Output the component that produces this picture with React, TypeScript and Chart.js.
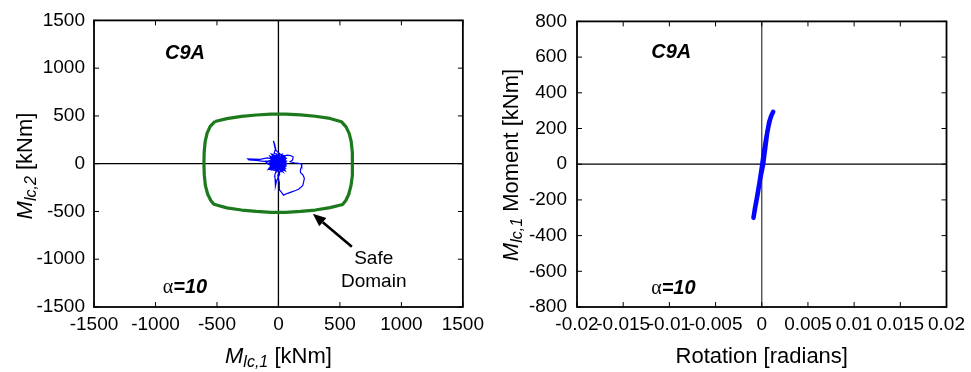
import React, { useEffect, useRef } from "react";
import { Chart, registerables } from "chart.js";

Chart.register(...registerables);

const FONT = '"Liberation Sans", Arial, sans-serif';

// ---------- Left panel: interaction (safe domain) ----------
const leftTicks = [-1500, -1000, -500, 0, 500, 1000, 1500];
const leftTickLabels = ["-1500", "-1000", "-500", "0", "500", "1000", "1500"];

const safeX = [
  -516, -420, -300, -180, -60, 0, 60, 180, 300, 420, 512,
  550, 576, 592, 601, 603, 600, 590, 572, 548, 522,
  420, 300, 180, 60, 0, -60, -180, -300, -420, -525,
  -550, -575, -594, -603, -606, -604, -596, -580, -555, -516,
];
const safeY = [
  442, 472, 495, 510, 518, 520, 519, 512, 497, 474, 440,
  385, 315, 230, 120, 0, -120, -230, -320, -385, -427,
  -460, -485, -500, -509, -510, -509, -500, -485, -462, -425,
  -385, -320, -230, -120, 0, 120, 230, 320, 390, 442,
];

const pathX = [
  0, 20, -15, 30, -40, 10, -30, 45, -20, -60, 25, 55, -45, 0, -35, -25, -41, -30, -20, 15,
  -60, 40, -70, 50, -20, 30, -75, 55, -10, 20, -65, 60, -45, 35, -80, 50, -30, 25, -55, 45,
  -35, 15, -60, 55, -5, 40, -70, 25, -50, 65, -15, 35, -40, 5, -65, 50, -25, 60, -55, 20,
  -50, -90, -150, -249, -240, -180, -120, -70, -100, -60, -80, -40, -20, -30, -27, -22, -27, -15, 10, 0,
  -15, 65, -70, 10, -40, 30, -60, 40, -25, 55,
  35, 60, 40, 70, 100, 120, 115, 95, 130, 160, 184, 190, 180, 179, 200, 211, 205, 198, 180, 163,
  140, 108, 75, 41, 27, 12, 5, 10, -5, 20, -10, 50, 30, -40, 15, -25, 40, -55, 20, -10,
  60, -30, 0, 35, -50, 10, -20, 45, -35, 25, -65, 55, -5, 30, -50, 15,
  -20, 45, -45, 10, -70, 35, -30, 60, -10, 0,
];
const pathY = [
  0, 30, 45, -20, 10, 60, -35, 15, 70, 20, -50, 40, -15, 90, 110, 150, 240, 200, 140, 100,
  70, -70, -40, 60, -90, 100, 30, -45, 85, -85, -60, 30, 95, -55, 0, 75, -70, 45, 55, -30,
  20, -60, -10, 50, -75, 80, 10, -35, 90, -15, 35, -80, 65, 25, -50, 10, -65, 55, 40, -25,
  50, 60, 45, 51, 40, 35, 25, 30, 10, -20, -55, -30, -80, -120, -160, -200, -234, -180, -110, -60,
  -50, 5, 80, -95, 60, -15, -25, 90, 40, -65,
  -40, 20, 80, 90, 85, 70, 40, 20, 10, 5, 0, -24, -60, -92, -120, -153, -190, -227, -250, -268,
  -280, -295, -310, -329, -302, -280, -261, -200, -120, -70, -20, -10, 50, 40, 25, -10, -60, 5, 65, -45,
  -25, 80, -15, 35, -40, 10, 55, -5, 25, -30, 20, -75, 60, 70, -60, -20,
  15, 40, -35, -55, 20, -85, 50, 10, 95, 0,
];

// ---------- Right panel: moment-rotation ----------
const rotTicks = [-0.02, -0.015, -0.01, -0.005, 0, 0.005, 0.01, 0.015, 0.02];
const rotTickLabels = ["-0.02", "-0.015", "-0.01", "-0.005", "0", "0.005", "0.01", "0.015", "0.02"];
const momTicks = [-800, -600, -400, -200, 0, 200, 400, 600, 800];
const momTickLabels = ["-800", "-600", "-400", "-200", "0", "200", "400", "600", "800"];

const rotX = [
  -0.0009, -0.0007, -0.00045, -0.0002, 0.00015, 0.0004, 0.0006, 0.0008, 0.001, 0.00124,
  0.0011, 0.0009, 0.0007, 0.0005, 0.00025, 0.0, -0.00025, -0.0005, -0.00075, -0.00088,
];
const momY = [
  -300, -240, -170, -90, 0, 100, 180, 235, 268, 294,
  280, 250, 205, 150, 75, -20, -105, -180, -250, -296,
];

type Part = { t: string; font: string; dy?: number };

function drawRich(ctx: CanvasRenderingContext2D, parts: Part[], cx: number, base: number, rot = 0) {
  ctx.save();
  ctx.translate(cx, base);
  if (rot) ctx.rotate(rot);
  ctx.textAlign = "left";
  ctx.textBaseline = "alphabetic";
  ctx.fillStyle = "#000";
  let total = 0;
  const ws = parts.map((p) => {
    ctx.font = p.font;
    const w = ctx.measureText(p.t).width;
    total += w;
    return w;
  });
  let x = -total / 2;
  parts.forEach((p, i) => {
    ctx.font = p.font;
    ctx.fillText(p.t, x, p.dy || 0);
    x += ws[i];
  });
  ctx.restore();
}

type Note = { x: number; y: number; parts: Part[] };
type Deco = {
  xTitle: Part[];
  xBase: number;
  yTitle: Part[];
  yBaseX: number;
  yCenter: number;
  notes: Note[];
  arrow?: { x1: number; y1: number; x2: number; y2: number };
  vZeroColor: string;
};

function makeDeco(cfg: Deco) {
  return {
    id: "deco",
    beforeDatasetsDraw(chart: any) {
      const { ctx, chartArea: a, scales } = chart;
      const x0 = scales.x.getPixelForValue(0);
      const y0 = scales.y.getPixelForValue(0);
      ctx.save();
      ctx.lineWidth = 1.3;
      ctx.strokeStyle = "#000";
      ctx.beginPath();
      ctx.moveTo(a.left, y0);
      ctx.lineTo(a.right, y0);
      ctx.stroke();
      ctx.strokeStyle = cfg.vZeroColor;
      ctx.beginPath();
      ctx.moveTo(x0, a.top);
      ctx.lineTo(x0, a.bottom);
      ctx.stroke();
      ctx.restore();
    },
    afterDraw(chart: any) {
      const { ctx, chartArea: a, scales } = chart;
      ctx.save();
      ctx.strokeStyle = "#000";
      ctx.lineWidth = 1;
      const tl = 5;
      scales.x.ticks.forEach((t: any) => {
        const p = scales.x.getPixelForValue(t.value);
        ctx.beginPath();
        ctx.moveTo(p, a.bottom);
        ctx.lineTo(p, a.bottom - tl);
        ctx.moveTo(p, a.top);
        ctx.lineTo(p, a.top + tl);
        ctx.stroke();
      });
      scales.y.ticks.forEach((t: any) => {
        const p = scales.y.getPixelForValue(t.value);
        ctx.beginPath();
        ctx.moveTo(a.left, p);
        ctx.lineTo(a.left + tl, p);
        ctx.moveTo(a.right, p);
        ctx.lineTo(a.right - tl, p);
        ctx.stroke();
      });
      ctx.lineWidth = 1.8;
      ctx.strokeRect(a.left, a.top, a.right - a.left, a.bottom - a.top);
      if (cfg.arrow) {
        const x1 = scales.x.getPixelForValue(cfg.arrow.x1);
        const y1 = scales.y.getPixelForValue(cfg.arrow.y1);
        const x2 = scales.x.getPixelForValue(cfg.arrow.x2);
        const y2 = scales.y.getPixelForValue(cfg.arrow.y2);
        const ang = Math.atan2(y2 - y1, x2 - x1);
        const hl = 13;
        const hw = 5.5;
        const bx = x2 - hl * Math.cos(ang);
        const by = y2 - hl * Math.sin(ang);
        ctx.lineWidth = 2.6;
        ctx.beginPath();
        ctx.moveTo(x1, y1);
        ctx.lineTo(bx, by);
        ctx.stroke();
        ctx.fillStyle = "#000";
        ctx.beginPath();
        ctx.moveTo(x2, y2);
        ctx.lineTo(bx + hw * Math.sin(ang), by - hw * Math.cos(ang));
        ctx.lineTo(bx - hw * Math.sin(ang), by + hw * Math.cos(ang));
        ctx.closePath();
        ctx.fill();
      }
      ctx.restore();
      cfg.notes.forEach((n) => {
        drawRich(ctx, n.parts, scales.x.getPixelForValue(n.x), scales.y.getPixelForValue(n.y));
      });
      drawRich(ctx, cfg.xTitle, (a.left + a.right) / 2, cfg.xBase);
      drawRich(ctx, cfg.yTitle, cfg.yBaseX, cfg.yCenter, -Math.PI / 2);
    },
  };
}

function axis(min: number, max: number, vals: number[], labels: string[], isX: boolean, pad: number, size: number) {
  return {
    type: "linear",
    min,
    max,
    afterBuildTicks: (s: any) => {
      s.ticks = vals.map((v) => ({ value: v }));
    },
    ticks: {
      callback: (_v: any, i: number) => labels[i],
      autoSkip: false,
      maxRotation: 0,
      minRotation: 0,
      font: { family: FONT, size: 19 },
      color: "#000",
      padding: pad,
    },
    grid: { display: false, drawTicks: false },
    border: { display: false },
    afterFit: (s: any) => {
      if (isX) s.height = size;
      else s.width = size;
    },
  };
}

const italic22 = `italic 22px ${FONT}`;
const italic16 = `italic 16px ${FONT}`;
const reg22 = `22px ${FONT}`;
const bi20 = `italic bold 20px ${FONT}`;
const alphaFont = `20px "Liberation Serif", serif`;
const reg19 = `19px ${FONT}`;

export default function App() {
  const leftRef = useRef<HTMLCanvasElement>(null);
  const rightRef = useRef<HTMLCanvasElement>(null);

  useEffect(() => {
    document.body.style.margin = "0";
    const left = new Chart(leftRef.current as HTMLCanvasElement, {
      type: "scatter",
      data: {
        datasets: [
          {
            data: safeX.map((x, i) => ({ x, y: safeY[i] })),
            showLine: true,
            borderColor: "#1c7a1c",
            borderWidth: 3.2,
            pointRadius: 0,
            borderJoinStyle: "round",
          },
          {
            data: pathX.map((x, i) => ({ x, y: pathY[i] })),
            showLine: true,
            borderColor: "#0000ff",
            borderWidth: 1.2,
            pointRadius: 0,
          },
        ],
      },
      options: {
        responsive: false,
        animation: false,
        layout: { padding: { top: 12, right: 27, left: 0, bottom: 0 } },
        plugins: { legend: { display: false }, tooltip: { enabled: false } },
        scales: {
          x: axis(-1500, 1500, leftTicks, leftTickLabels, true, 6, 65),
          y: axis(-1500, 1500, leftTicks, leftTickLabels, false, 9, 94),
        },
      } as any,
      plugins: [
        makeDeco({
          xTitle: [
            { t: "M", font: italic22 },
            { t: "lc,1", font: italic16, dy: 4 },
            { t: " [kNm]", font: reg22 },
          ],
          xBase: 363,
          yTitle: [
            { t: "M", font: italic22 },
            { t: "lc,2", font: italic16, dy: 4 },
            { t: " [kNm]", font: reg22 },
          ],
          yBaseX: 32,
          yCenter: 166,
          notes: [
            { x: -760, y: 1093, parts: [{ t: "C9A", font: bi20 }] },
            {
              x: -760,
              y: -1358,
              parts: [
                { t: "α", font: alphaFont },
                { t: "=10", font: bi20 },
              ],
            },
            { x: 775, y: -1052, parts: [{ t: "Safe", font: reg19 }] },
            { x: 775, y: -1286, parts: [{ t: "Domain", font: reg19 }] },
          ],
          arrow: { x1: 597, y1: -869, x2: 280, y2: -524 },
          vZeroColor: "#000",
        }) as any,
      ],
    });

    const right = new Chart(rightRef.current as HTMLCanvasElement, {
      type: "scatter",
      data: {
        datasets: [
          {
            data: rotX.map((x, i) => ({ x, y: momY[i] })),
            showLine: true,
            borderColor: "#0505ff",
            borderWidth: 4.5,
            pointRadius: 0,
            borderCapStyle: "round",
            borderJoinStyle: "round",
          },
        ],
      },
      options: {
        responsive: false,
        animation: false,
        layout: { padding: { top: 12, right: 18, left: 0, bottom: 0 } },
        plugins: { legend: { display: false }, tooltip: { enabled: false } },
        scales: {
          x: axis(-0.02, 0.02, rotTicks, rotTickLabels, true, 6, 65),
          y: axis(-800, 800, momTicks, momTickLabels, false, 10, 87),
        },
      } as any,
      plugins: [
        makeDeco({
          xTitle: [{ t: "Rotation [radians]", font: reg22 }],
          xBase: 363,
          yTitle: [
            { t: "M", font: italic22 },
            { t: "lc,1", font: italic16, dy: 4 },
            { t: " Moment [kNm]", font: reg22 },
          ],
          yBaseX: 28,
          yCenter: 165,
          notes: [
            { x: -0.0098, y: 594, parts: [{ t: "C9A", font: bi20 }] },
            {
              x: -0.00957,
              y: -729,
              parts: [
                { t: "α", font: alphaFont },
                { t: "=10", font: bi20 },
              ],
            },
          ],
          vZeroColor: "#444",
        }) as any,
      ],
    });

    return () => {
      left.destroy();
      right.destroy();
    };
  }, []);

  return (
    <div style={{ position: "fixed", left: 0, top: 0, width: 971, height: 372, background: "#fff" }}>
      <canvas ref={leftRef} width={490} height={372} style={{ position: "absolute", left: 0, top: 0 }} />
      <canvas ref={rightRef} width={481} height={372} style={{ position: "absolute", left: 490, top: 0 }} />
    </div>
  );
}
